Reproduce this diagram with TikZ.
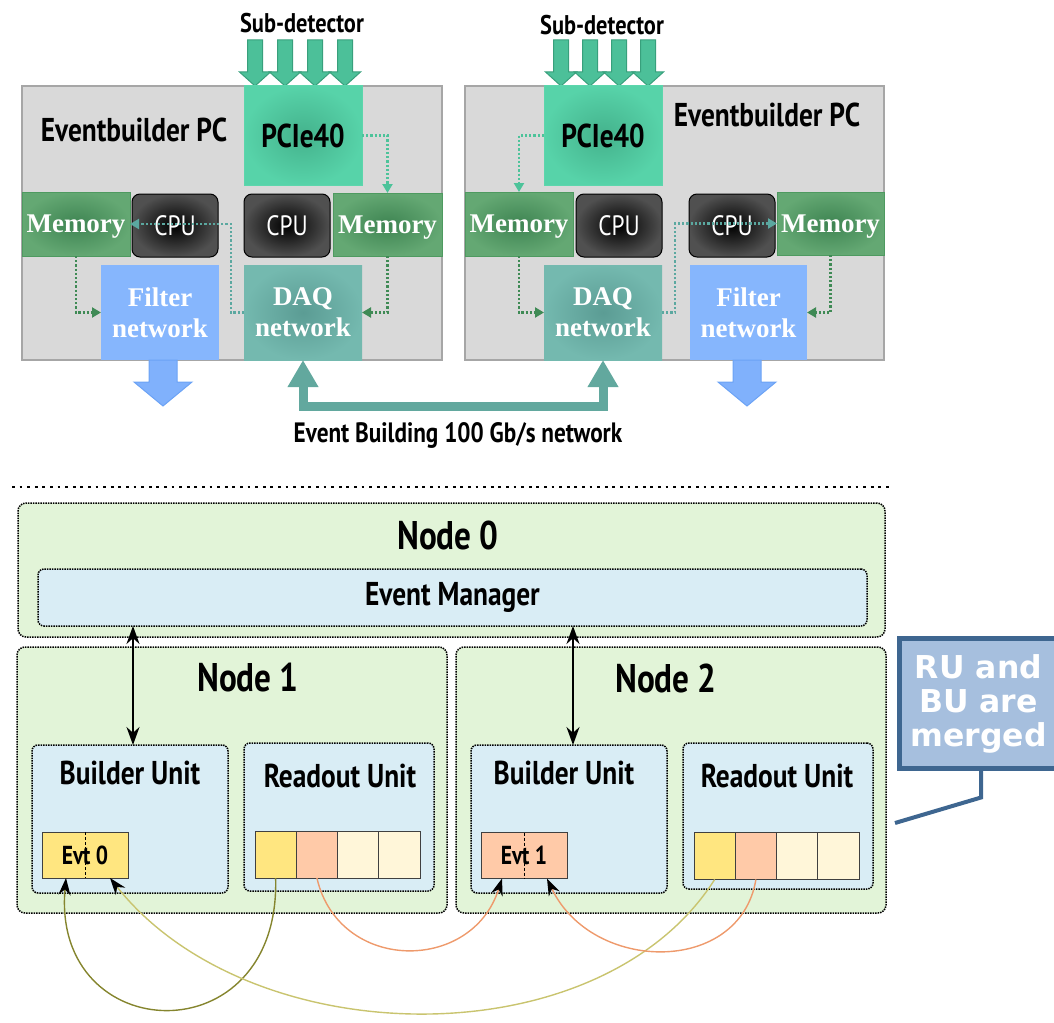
\documentclass[tikz,border=0pt]{standalone}
\usepackage{fontspec}
\setmainfont{Liberation Serif}
\newfontfamily\narrowsans[FakeStretch=0.83]{PT Sans}
\newfontfamily\calloutfont{DejaVu Sans}
\usetikzlibrary{arrows.meta,positioning}

\definecolor{pcgray}{HTML}{D9D9D9}
\definecolor{pcedge}{HTML}{A6A6A6}
\definecolor{pcieout}{HTML}{57D3A9}
\definecolor{pciein}{HTML}{44B28C}
\definecolor{pcieedge}{HTML}{5CD6AC}
\definecolor{memout}{HTML}{64A873}
\definecolor{memin}{HTML}{3E8452}
\definecolor{memedge}{HTML}{4E9A60}
\definecolor{cpuout}{HTML}{505050}
\definecolor{daqout}{HTML}{74B9AF}
\definecolor{daqin}{HTML}{5B9C94}
\definecolor{filtblue}{HTML}{86B6FD}
\definecolor{subfill}{HTML}{4CC099}
\definecolor{subedge}{HTML}{38A07C}
\definecolor{outfill}{HTML}{80B1FC}
\definecolor{outedge}{HTML}{6CA3F5}
\definecolor{daqline}{HTML}{62A89E}
\definecolor{feedteal}{HTML}{4DC39A}
\definecolor{feedcyan}{HTML}{5BA8A0}
\definecolor{feedgreen}{HTML}{3F8A55}
\definecolor{nodegreen}{HTML}{E2F4D8}
\definecolor{unitblue}{HTML}{D9EDF5}
\definecolor{evyel}{HTML}{FFE680}
\definecolor{evsal}{HTML}{FFCAA8}
\definecolor{evcrm}{HTML}{FFF6D9}
\definecolor{oliveD}{HTML}{85852E}
\definecolor{oliveL}{HTML}{C9C46F}
\definecolor{salmonln}{HTML}{EE9A6C}
\definecolor{callfill}{HTML}{A6BFDE}
\definecolor{calledge}{HTML}{3E6690}

\begin{document}
\begin{tikzpicture}[x=1pt,y=-1pt,
  every node/.style={inner sep=0pt,outer sep=0pt},
  sz/.style 2 args={minimum width=#1pt,minimum height=#2pt},
  pcbox/.style={draw=pcedge,line width=2pt,fill=pcgray},
  pcie/.style={draw=pcieedge,line width=1pt,inner color=pciein,outer color=pcieout,
    font=\narrowsans\bfseries\fontsize{33}{36}\selectfont},
  mem/.style={draw=memedge,line width=1pt,inner color=memin,outer color=memout,
    text=white,text depth=0pt,font=\bfseries\fontsize{27}{30}\selectfont},
  cpu/.style={draw=black,line width=1pt,rounded corners=8pt,inner color=black,
    outer color=cpuout,text=white,font=\narrowsans\fontsize{28}{30}\selectfont},
  filt/.style={fill=filtblue,text=white,align=center,
    font=\bfseries\fontsize{27}{31}\selectfont},
  daq/.style={inner color=daqin,outer color=daqout,text=white,align=center,
    font=\bfseries\fontsize{27}{31}\selectfont},
  title/.style={font=\narrowsans\bfseries\fontsize{33}{36}\selectfont},
  subtxt/.style={font=\narrowsans\bfseries\fontsize{27}{30}\selectfont},
  feed/.style={line width=2.2pt,dash pattern=on 2.2pt off 2pt,
    -{Triangle[length=9pt,width=10pt]}},
  subarrow/.style={fill=subfill,draw=subedge,line width=1pt},
  outarrow/.style={fill=outfill,draw=outedge,line width=1pt},
  daqlink/.style={draw=daqline,line width=9pt,
    {Triangle[length=27pt,width=29pt]}-{Triangle[length=27pt,width=29pt]}},
  nodebox/.style={draw,line width=1.5pt,densely dotted,rounded corners=8pt,fill=nodegreen},
  unitbox/.style={draw,line width=1.5pt,densely dotted,rounded corners=6pt,fill=unitblue},
  head/.style={font=\narrowsans\bfseries\fontsize{40}{44}\selectfont},
  unittxt/.style={font=\narrowsans\bfseries\fontsize{33}{36}\selectfont},
  cell/.style={draw=black!75,line width=1pt,sz={41.25}{47}},
  evt/.style={draw=black!75,line width=1pt,sz={86}{46},
    font=\narrowsans\bfseries\fontsize{26}{28}\selectfont},
  evline/.style={line width=1.4pt,-{Stealth[length=17pt,width=12pt,color=black]}},
  mgr/.style={line width=1.8pt,{Stealth[length=18pt,width=13pt]}-{Stealth[length=18pt,width=13pt]}},
  callout/.style={draw=calledge,line width=5pt,fill=callfill,sz={158}{130},text=white,
    align=center,font=\calloutfont\bfseries\fontsize{31.5}{34}\selectfont}
]
\useasboundingbox (0,0) rectangle (1054,1022);

% upper half: two eventbuilder PCs
\node[pcbox,sz={420}{274}] (pcL) at (232,223) {};
\node[pcbox,sz={419}{274}] (pcR) at (674.5,223) {};
\node[title] (ebL) at (134,130) {Eventbuilder PC};
\node[title] (ebR) at (767,115) {Eventbuilder PC};
\node[subtxt] (sdL) at (302,23) {Sub-detector};
\node[subtxt] (sdR) at (602,25) {Sub-detector};

\foreach \x in {255,285,315,345,561,590,619,648}
  \draw[subarrow] (\x-7.5,40) -- (\x+7.5,40) -- (\x+7.5,72) -- (\x+15.5,72)
    -- (\x,86) -- (\x-15.5,72) -- (\x-7.5,72) -- cycle;

\node[pcie,sz={118}{99}] (pcieL) at (303,135.5) {PCIe40};
\node[pcie,sz={118}{99}] (pcieR) at (603,135.5) {PCIe40};

\node[mem,sz={108}{64}] (memLa) at (76,224) {Memory};
\node[cpu,sz={86}{63}] (cpuLa) at (175,225.5) {CPU};
\node[cpu,sz={86}{63}] (cpuLb) at (287,225.5) {CPU};
\node[mem,sz={109}{63}] (memLb) at (387.5,224.5) {Memory};
\node[filt,sz={118}{95}] (filtL) at (160,312.5) {Filter\\network};
\node[daq,sz={118}{95}] (daqL) at (303,312.5) {DAQ\\network};

\node[mem,sz={108}{64}] (memRa) at (519,224) {Memory};
\node[cpu,sz={86}{63}] (cpuRa) at (619,225.5) {CPU};
\node[cpu,sz={86}{63}] (cpuRb) at (732,225.5) {CPU};
\node[mem,sz={107}{63}] (memRb) at (830.5,223.5) {Memory};
\node[daq,sz={118}{95}] (daqR) at (603,312.5) {DAQ\\network};
\node[filt,sz={117}{95}] (filtR) at (748.5,312.5) {Filter\\network};

% data paths inside the PCs
\draw[feed,draw=feedteal] (pcieL.east) -| (memLb.north);
\draw[feed,draw=feedcyan] (daqL.west) -- ++(-13,0) |- (memLa.east);
\draw[feed,draw=feedgreen] (memLa.south) |- (filtL.west);
\draw[feed,draw=feedgreen] (memLb.south) |- (daqL.east);
\draw[feed,draw=feedteal] (pcieR.west) -| (memRa.north);
\draw[feed,draw=feedgreen] (memRa.south) |- (daqR.west);
\draw[feed,draw=feedcyan] (daqR.east) -- ++(13,0) |- (memRb.west);
\draw[feed,draw=feedgreen] (memRb.south) |- (filtR.east);

\foreach \x in {163,747}
  \draw[outarrow] (\x-14,360) -- (\x+14,360) -- (\x+14,382) -- (\x+29,382)
    -- (\x,406) -- (\x-29,382) -- (\x-14,382) -- cycle;

\draw[daqlink] (daqL.south) -- ++(0,46) -| (daqR.south);
\node[subtxt,font=\narrowsans\bfseries\fontsize{28}{30}\selectfont] (ebnet) at (458,435)
  {Event Building 100 Gb/s network};

\draw[line width=2.5pt,dash pattern=on 2.7pt off 4.9pt] (12,487) -- (891,487);

% lower half: nodes
\node[nodebox,sz={867}{134}] (node0) at (451.5,570) {};
\node[head] (node0t) at (448,535) {Node 0};
\node[unitbox,sz={829}{57},unittxt] (em) at (452.5,597.5) {Event Manager};

\node[nodebox,sz={430}{266}] (node1) at (232,780) {};
\node[nodebox,sz={430}{266}] (node2) at (671,780) {};
\node[head] (node1t) at (248,678) {Node 1};
\node[head] (node2t) at (666,678) {Node 2};

\node[unitbox,sz={196}{148}] (bu1) at (130,819) {};
\node[unitbox,sz={190}{148}] (ru1) at (339,817) {};
\node[unitbox,sz={196}{148}] (bu2) at (569,819) {};
\node[unitbox,sz={190}{146}] (ru2) at (778,816) {};
\node[unittxt] (bu1t) at (130,773) {Builder Unit};
\node[unittxt] (ru1t) at (340,776) {Readout Unit};
\node[unittxt] (bu2t) at (564,773) {Builder Unit};
\node[unittxt] (ru2t) at (777,776) {Readout Unit};

\draw[mgr] ([xshift=3pt]bu1.north |- em.south) -- ([xshift=3pt]bu1.north);
\draw[mgr] ([xshift=4pt]bu2.north |- em.south) -- ([xshift=4pt]bu2.north);

\node[evt,fill=evyel] (evt0) at (85,855) {Evt 0};
\node[evt,fill=evsal] (evt1) at (524,855.5) {Evt 1};
\draw[black,line width=0.8pt,densely dashed] (evt0.north) -- (evt0.south);
\draw[black,line width=0.8pt,densely dashed] (evt1.north) -- (evt1.south);

\foreach \i/\c in {1/evyel,2/evsal,3/evcrm,4/evcrm}{
  \node[cell,fill=\c] (ruA\i) at ({234.4+41.25*\i},854.5) {};
  \node[cell,fill=\c] (ruB\i) at ({673.4+41.25*\i},856) {};
}

% fragments travelling to the builder units
\draw[evline,draw=oliveD] (ruA1.south) .. controls +(5,180) and +(-15,170) .. ([xshift=-19pt]evt0.south);
\draw[evline,draw=oliveL] (ruB1.south) .. controls +(-115,181) and +(140,177) .. ([xshift=25pt]evt0.south);
\draw[evline,draw=salmonln] (ruA2.south) .. controls +(22,95) and +(-30,95) .. ([xshift=-22pt]evt1.south);
\draw[evline,draw=salmonln] (ruB2.south) .. controls +(-16,96) and +(45,95) .. ([xshift=23pt]evt1.south);

% remark
\node[callout] (merged) at (978.5,703.5) {RU and\\BU are\\merged};
\coordinate (calltip) at (895,823);
\draw[calledge,line width=4pt] ([xshift=2.5pt]merged.south) -- ++(0,29) -- (calltip);
\end{tikzpicture}
\end{document}
